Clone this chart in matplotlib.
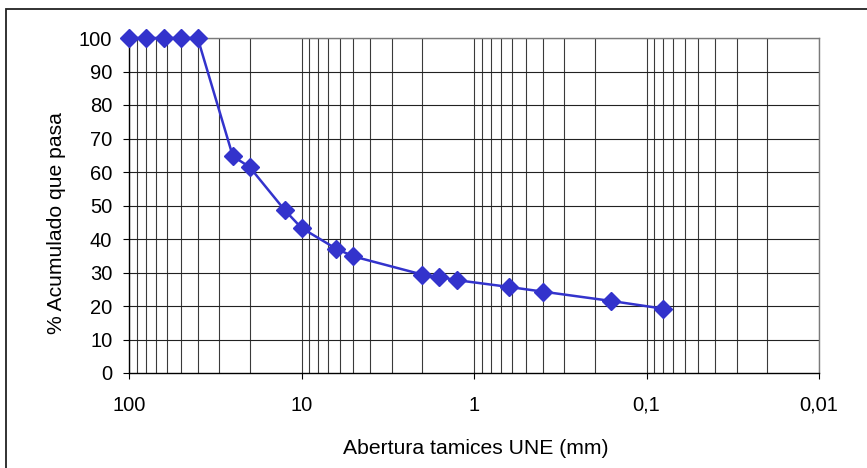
import matplotlib
matplotlib.use("Agg")
import matplotlib.pyplot as plt
from matplotlib.patches import Rectangle
from matplotlib.ticker import FixedLocator, FixedFormatter, NullLocator

plt.rcParams['font.family'] = ['Liberation Sans', 'DejaVu Sans']

# Sieve openings (mm) and cumulative % passing
sieves = [100, 80, 63, 50, 40, 25, 20, 12.5, 10, 6.3, 5, 2, 1.6, 1.25, 0.63, 0.4, 0.16, 0.08]
passing = [100, 100, 100, 100, 100, 64.7, 61.5, 48.6, 43.3, 37.1, 34.8, 29.4, 28.7, 27.7, 25.7, 24.3, 21.5, 19.2]

x_ticks = [100, 10, 1, 0.1, 0.01]
x_tick_labels = ["100", "10", "1", "0,1", "0,01"]
y_ticks = [0, 10, 20, 30, 40, 50, 60, 70, 80, 90, 100]

W, H = 867, 468
fig = plt.figure(figsize=(W / 100, H / 100), dpi=100)
ax = fig.add_axes([129 / W, 1 - 373 / H, (819 - 129) / W, (373 - 38) / H])

# vertical grid lines at each 1..9 x decade
grid_x = []
for d in [10, 1, 0.1, 0.01]:
    for m in range(1, 10):
        v = m * d
        if 0.01 <= v <= 100:
            grid_x.append(v)
grid_x.append(100)
for v in grid_x:
    ax.axvline(v, color='#3a3a3a', lw=0.8, zorder=1)
for v in y_ticks[1:]:
    ax.axhline(v, color='#222222', lw=0.8, zorder=1)

ax.plot(sieves, passing, color='#3333CC', lw=1.8, marker='D', markersize=9,
        markeredgecolor='#3333CC', zorder=3, clip_on=False)

ax.set_xscale('log')
ax.set_xlim(100, 0.01)
ax.set_ylim(0, 100)
ax.xaxis.set_major_locator(FixedLocator(x_ticks))
ax.xaxis.set_major_formatter(FixedFormatter(x_tick_labels))
ax.xaxis.set_minor_locator(NullLocator())
ax.set_yticks(y_ticks)

ax.tick_params(axis='both', labelsize=14.5, color='black', width=0.8)
ax.tick_params(axis='x', direction='out', length=4.5, pad=12)
ax.tick_params(axis='y', direction='out', length=4.5, pad=7.5)

for s in ['left', 'bottom']:
    ax.spines[s].set_color('black')
    ax.spines[s].set_linewidth(1.0)
for s in ['top', 'right']:
    ax.spines[s].set_color('#7a7a7a')
    ax.spines[s].set_linewidth(1.0)

fig.text(475.5 / W, 1 - 454 / H, 'Abertura tamices UNE (mm)', fontsize=15.2,
         ha='center', va='baseline')
fig.text(57 / W, 1 - 223.5 / H, '% Acumulado que pasa', fontsize=15.2,
         ha='center', va='center', rotation=90)

# outer chart border (clipped at right/bottom)
fig.patches.append(Rectangle((6 / W, -0.2), 1.5, 1 - 9 / H + 0.2, transform=fig.transFigure,
                             fill=False, edgecolor='#222222', lw=1.3, clip_on=False))

fig.savefig('out.png', dpi=100)
